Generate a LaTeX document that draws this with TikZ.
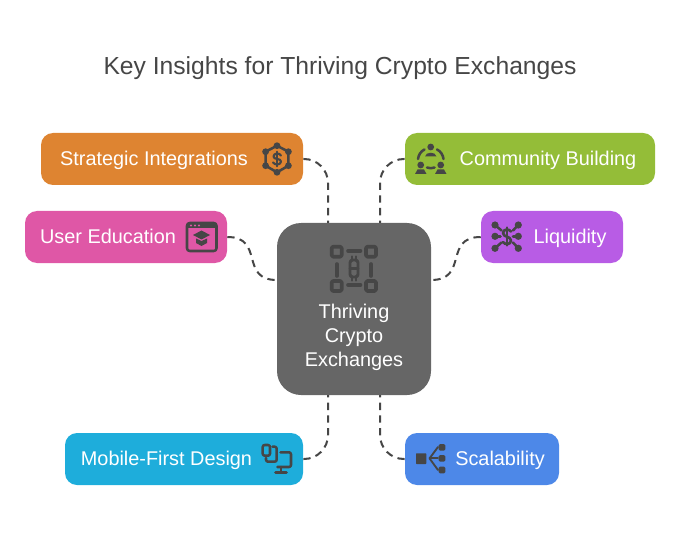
\documentclass[tikz,border=0pt]{standalone}
\usepackage{fontspec}
\setmainfont{Liberation Sans}
\usepackage{tikz}
\definecolor{inkgray}{HTML}{464646}
\definecolor{hubgray}{HTML}{666666}
\definecolor{strategicorange}{HTML}{DE8431}
\definecolor{educationpink}{HTML}{DF57A6}
\definecolor{communitygreen}{HTML}{94BD38}
\definecolor{liquiditypurple}{HTML}{B85CE5}
\definecolor{mobileblue}{HTML}{1EADDB}
\definecolor{scalabilityblue}{HTML}{4D88E8}
\tikzset{
  pillbox/.style={draw=none, rounded corners=9pt, minimum height=39pt, inner sep=0pt},
  pilltext/.style={text=white, inner sep=0pt, anchor=base, font=\fontsize{14.9}{18}\selectfont},
  link/.style={draw=inkgray, line width=1.5pt, dash pattern=on 5.5pt off 4pt},
  iconline/.style={draw=inkgray, line width=1.9pt, line cap=round, line join=round},
  iconfill/.style={fill=inkgray, draw=none},
}
\begin{document}
\begin{tikzpicture}[x=0.75pt, y=-0.75pt]
      \useasboundingbox (0, 0) rectangle (680, 534);
      \node[text=inkgray, inner sep=0pt, anchor=base, font=\fontsize{18.5}{22}\selectfont] (title) at (340, 74.5) {Key Insights for Thriving Crypto Exchanges};

      % boxes
      \node[pillbox, fill=hubgray, rounded corners=18pt, minimum width=115.5pt, minimum height=129pt] (hub) at (354, 309) {};
      \node[pillbox, fill=strategicorange, minimum width=196.5pt] (strategic) at (172, 159) {};
      \node[pillbox, fill=educationpink, minimum width=151.5pt] (education) at (126, 237) {};
      \node[pillbox, fill=communitygreen, minimum width=187.5pt] (community) at (530, 159) {};
      \node[pillbox, fill=liquiditypurple, minimum width=106.5pt] (liquidity) at (552, 237) {};
      \node[pillbox, fill=mobileblue, minimum width=178.5pt] (mobile) at (184, 459) {};
      \node[pillbox, fill=scalabilityblue, minimum width=115.5pt] (scalability) at (482, 459) {};

      % labels
      \node[pilltext] (hubtexta) at (354, 318.5) {Thriving};
      \node[pilltext] (hubtextb) at (354, 342.5) {Crypto};
      \node[pilltext] (hubtextc) at (354, 366.5) {Exchanges};
      \node[pilltext] (strategictext) at (154, 165.5) {Strategic Integrations};
      \node[pilltext] (educationtext) at (108, 243.5) {User Education};
      \node[pilltext] (communitytext) at (548, 165.5) {Community Building};
      \node[pilltext] (liquiditytext) at (570, 243.5) {Liquidity};
      \node[pilltext] (mobiletext) at (166.5, 465.5) {Mobile-First Design};
      \node[pilltext] (scalabilitytext) at (500, 465.5) {Scalability};

      % connectors
      \coordinate (hubnw) at (328, 223);
      \coordinate (hubne) at (380, 223);
      \coordinate (hubsw) at (328, 395);
      \coordinate (hubse) at (380, 395);
      \coordinate (hubw) at (277, 280);
      \coordinate (hube) at (431, 280);
      \draw[link, rounded corners=18pt] (strategic.east) -| (hubnw);
      \draw[link, rounded corners=18pt] (community.west) -| (hubne);
      \draw[link, rounded corners=18pt] (mobile.east) -| (hubsw);
      \draw[link, rounded corners=18pt] (scalability.west) -| (hubse);
      \draw[link] (education.east) .. controls (265, 237) and (239, 280) .. (hubw);
      \draw[link] (liquidity.west) .. controls (443, 237) and (469, 280) .. (hube);

      % hub icon
      \foreach \x/\y in {336.7/251.7, 371/251.7, 336.7/286, 371/286}
        \draw[iconline, line width=2.7pt, rounded corners=1pt] (\x-5, \y-5) rectangle (\x+5, \y+5);
      \draw[iconline, line width=2.7pt] (348, 250.7) -- (360.5, 250.7);
      \draw[iconline, line width=2.7pt] (348, 285) -- (360.5, 285);
      \draw[iconline, line width=2.7pt] (336.7, 264) -- (336.7, 276);
      \draw[iconline, line width=2.7pt] (371, 264) -- (371, 276);
      \draw[iconline, rounded corners=2pt, line width=2.2pt] (350, 260) rectangle (358, 277);
      \draw[iconline, line width=2.2pt] (350, 268.5) -- (358, 268.5);
      \draw[iconline, line width=1.6pt] (352, 256.5) -- (352, 260) (356, 256.5) -- (356, 260);
      \draw[iconline, line width=1.6pt] (352, 277) -- (352, 280.5) (356, 277) -- (356, 280.5);

      % strategic icon
      \draw[iconline] (277, 145.7) -- (288.4, 151.7) -- (288.4, 165.7) -- (277, 172.3) -- (265.6, 165.7) -- (265.6, 151.7) -- cycle;
      \foreach \x/\y in {277/145.7, 288.4/151.7, 288.4/165.7, 277/172.3, 265.6/165.7, 265.6/151.7}
        \fill[iconfill] (\x, \y) circle (3.4);
      \draw[iconline, line width=1.6pt] (281, 155.5) .. controls (279.5, 152.5) and (273.5, 153) .. (273.5, 156.5) .. controls (273.5, 160) and (281, 158) .. (281, 161.5) .. controls (281, 165) and (275, 165.5) .. (273, 162.5);
      \draw[iconline, line width=1.3pt] (277, 151.5) -- (277, 166.5);

      % education icon
      \draw[iconline, rounded corners=2pt] (187, 223) rectangle (216.5, 251);
      \fill[iconfill] (187, 223) rectangle (216.5, 228.5);
      \foreach \x in {191, 195, 199}
        \fill[educationpink] (\x, 225.5) circle (1.1);
      \fill[iconfill] (201.5, 230.5) -- (210, 235) -- (201.5, 239.5) -- (193, 235) -- cycle;
      \fill[iconfill] (196, 238.5) -- (201.5, 241) -- (207, 238.5) -- (207, 243) -- (201.5, 246) -- (196, 243) -- cycle;

      % community icon
      \fill[iconfill] (430.7, 147) circle (3.4);
      \fill[iconfill] (420.7, 165) circle (3.4);
      \fill[iconfill] (440.7, 165) circle (3.4);
      \fill[iconfill] (425, 156.5) .. controls (425.5, 151.5) and (436, 151.5) .. (436.5, 156.5) -- cycle;
      \fill[iconfill] (415, 174) -- (417.5, 169.5) -- (424, 169.5) -- (426.5, 174) -- cycle;
      \fill[iconfill] (435, 174) -- (437.5, 169.5) -- (444, 169.5) -- (446.5, 174) -- cycle;
      \draw[iconline] (418, 159) .. controls (418.5, 155) and (421, 151) .. (424.5, 149.5);
      \draw[iconline] (443.5, 159) .. controls (443, 155) and (440.5, 151) .. (437, 149.5);
      \draw[iconline] (427, 167.5) .. controls (429, 168.5) and (432.5, 168.5) .. (434.5, 167.5);

      % liquidity icon
      \foreach \x/\y/\u/\v in {495/225/501.5/230.5, 518.3/225/513/230.5, 495/236.3/500.5/236.3, 518.3/236.3/513/236.3, 495/248.3/501.5/242.5, 518.3/248.3/513/242.5} {
        \fill[iconfill] (\x, \y) circle (3.6);
        \draw[iconline] (\x, \y) -- (\u, \v);
      }
      \draw[iconline, line width=2pt] (511, 231.5) .. controls (509, 228.5) and (503, 229) .. (503, 233) .. controls (503, 237.5) and (511, 236) .. (511, 240.5) .. controls (511, 245) and (504.5, 245) .. (503, 242);
      \draw[iconline, line width=1.6pt] (507, 227.5) -- (507, 245.5);

      % mobile icon
      \draw[iconline, rounded corners=1.5pt] (262.7, 445) rectangle (270, 455.7);
      \draw[iconline, rounded corners=1.5pt] (272.5, 446.7) -- (276.7, 446.7) -- (276.7, 461.7) -- (266, 461.7) -- (266, 458);
      \draw[iconline, rounded corners=1.5pt] (280.5, 452.3) -- (291, 452.3) -- (291, 467) -- (277.5, 467);
      \draw[iconline] (281, 467) -- (281, 472.5);
      \draw[iconline] (275.5, 472.7) -- (286.5, 472.7);

      % scalability icon
      \fill[iconfill, rounded corners=0.5pt] (416, 453.3) rectangle (426.3, 464);
      \foreach \y in {447.3, 458.4, 470}
        \fill[iconfill, rounded corners=1pt] (438.7, \y-3.3) rectangle (445.3, \y+3.3);
      \draw[iconline, line width=1.4pt] (438, 447) -- (429.5, 458.4) -- (438, 470);
      \draw[iconline, line width=1.4pt] (429.5, 458.4) -- (438, 458.4);
    \end{tikzpicture}
\end{document}
